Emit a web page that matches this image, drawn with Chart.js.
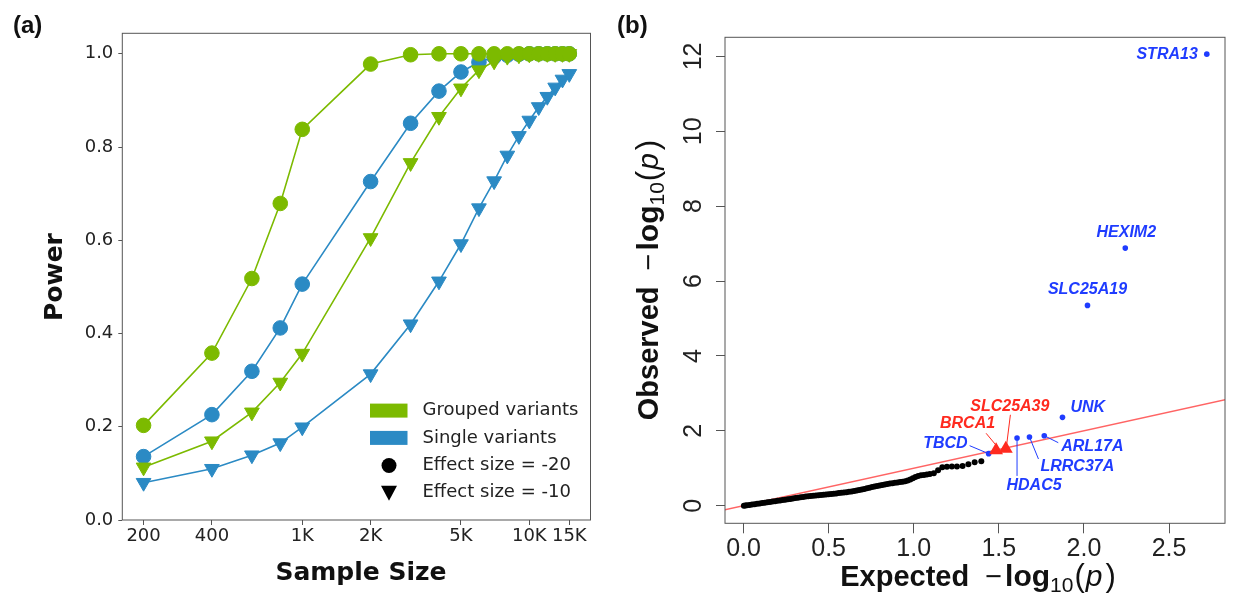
<!DOCTYPE html>
<html>
<head>
<meta charset="utf-8">
<script src="https://cdn.jsdelivr.net/npm/chart.js@4.4.1/dist/chart.umd.min.js"></script>
<style>
  html, body { margin: 0; padding: 0; background: #fff; }
  #wrap { position: relative; width: 1233px; height: 599px; overflow: hidden; }
  #chartA { position: absolute; left: 0; top: 0; }
  #chartB { position: absolute; left: 600px; top: 0; }
</style>
</head>
<body>
<div id="wrap">
  <canvas id="chartA" width="600" height="599"></canvas>
  <canvas id="chartB" width="633" height="599"></canvas>
</div>
<script>
// ---- panel (a): power vs sample size ----
const sampleSizes = [200, 400, 600, 800, 1000, 2000, 3000, 4000, 5000, 6000, 7000, 8000, 9000, 10000, 11000, 12000, 13000, 14000, 15000];
const groupedEffect20 = [0.203, 0.358, 0.518, 0.679, 0.838, 0.978, 0.998, 1, 1, 1, 1, 1, 1, 1, 1, 1, 1, 1, 1];
const singleEffect20 = [0.136, 0.226, 0.319, 0.412, 0.506, 0.726, 0.851, 0.920, 0.961, 0.982, 0.993, 0.997, 0.999, 1, 1, 1, 1, 1, 1];
const groupedEffect10 = [0.113, 0.169, 0.231, 0.295, 0.357, 0.605, 0.766, 0.865, 0.926, 0.965, 0.984, 0.994, 0.997, 0.999, 1, 1, 1, 1, 1];
const singleEffect10 = [0.080, 0.110, 0.139, 0.165, 0.199, 0.313, 0.420, 0.512, 0.592, 0.669, 0.727, 0.782, 0.824, 0.857, 0.886, 0.908, 0.928, 0.945, 0.957];
const sampleTicks = [200, 400, 1000, 2000, 5000, 10000, 15000];
const sampleTickLabels = ['200', '400', '1K', '2K', '5K', '10K', '15K'];
const powerTicks = [0, 0.2, 0.4, 0.6, 0.8, 1.0];
const legendLabels = ['Grouped variants', 'Single variants', 'Effect size = -20', 'Effect size = -10'];

// ---- panel (b): QQ plot ----
const qqExpected = [0.002, 0.01, 0.02,
  0.035, 0.05, 0.065, 0.08, 0.095, 0.11, 0.125, 0.14, 0.155, 0.17, 0.185, 0.2, 0.215, 0.23, 0.245, 0.26,
  0.275, 0.29, 0.305, 0.32, 0.335, 0.35, 0.365, 0.38, 0.395, 0.41, 0.425, 0.44, 0.455, 0.47, 0.485, 0.5,
  0.515, 0.53, 0.545, 0.56, 0.575, 0.59, 0.605, 0.62, 0.635, 0.65, 0.665, 0.68, 0.695, 0.71, 0.725, 0.74,
  0.755, 0.77, 0.785, 0.8, 0.815, 0.83, 0.845, 0.86, 0.875, 0.89, 0.905, 0.92, 0.935, 0.95,
  0.965, 0.98, 0.995, 1.01, 1.026, 1.043, 1.06, 1.077, 1.095,
  1.118, 1.143, 1.168, 1.195, 1.224, 1.254, 1.287, 1.321, 1.358, 1.397];
const qqObserved = [0.0, 0.005, 0.012,
  0.02, 0.03, 0.04, 0.05, 0.06, 0.072, 0.082, 0.092, 0.102, 0.112, 0.122, 0.132, 0.142, 0.152, 0.162, 0.172,
  0.182, 0.192, 0.205, 0.215, 0.225, 0.235, 0.245, 0.252, 0.258, 0.265, 0.272, 0.278, 0.285, 0.292, 0.298, 0.305,
  0.312, 0.32, 0.328, 0.336, 0.344, 0.352, 0.36, 0.37, 0.38, 0.39, 0.405, 0.418, 0.432, 0.448, 0.465, 0.482,
  0.498, 0.512, 0.526, 0.54, 0.555, 0.568, 0.58, 0.59, 0.6, 0.61, 0.62, 0.63, 0.64, 0.655,
  0.675, 0.70, 0.735, 0.765, 0.79, 0.81, 0.822, 0.834, 0.848,
  0.87, 0.95, 1.03, 1.04, 1.045, 1.05, 1.06, 1.11, 1.16, 1.19];
const geneNames = ['STRA13', 'HEXIM2', 'SLC25A19', 'UNK', 'ARL17A', 'LRRC37A', 'HDAC5', 'TBCD'];
const geneExpected = [2.722, 2.243, 2.021, 1.874, 1.767, 1.68, 1.607, 1.44];
const geneObserved = [12.06, 6.88, 5.35, 2.36, 1.87, 1.835, 1.81, 1.39];
const redGeneNames = ['BRCA1', 'SLC25A39'];
const redExpected = [1.484, 1.541];
const redObserved = [1.48, 1.52];
const diagonal = [-1, 4];   // y = x reference line
const expectedTicks = [0, 0.5, 1, 1.5, 2, 2.5];
const observedTicks = [0, 2, 4, 6, 8, 10, 12];

const GREEN = '#7cba00';
const BLUE = '#2b8ac4';
const GENE_BLUE = '#1f3cff';
const GENE_RED = '#ff2a1f';

// where each gene label sits, in pixels from its point
const labelPlacement = {
  STRA13:   { align: 'right',  dx: -9, dy: 0 },
  HEXIM2:   { align: 'center', dx: 1,  dy: -16 },
  SLC25A19: { align: 'center', dx: 0,  dy: -16 },
  UNK:      { align: 'left',   dx: 8,  dy: -10 },
  ARL17A:   { align: 'left',   dx: 17, dy: 11, leader: [0, 0, 14, 7] },
  LRRC37A:  { align: 'left',   dx: 11, dy: 30, leader: [0, 0, 9, 22] },
  HDAC5:    { align: 'center', dx: 17, dy: 48, leader: [0, 0, 0, 38] },
  TBCD:     { align: 'right',  dx: -21, dy: -10, leader: [-19, -8, 0, 0] },
  BRCA1:    { align: 'right',  dx: -1, dy: -27, leader: [-10, -17, 0, -5] },
  SLC25A39: { align: 'center', dx: 4,  dy: -42, leader: [4.6, -34, 0.6, -2] }
};

function seriesPoints(values) {
  return sampleSizes.map(function(n, i) { return { x: n, y: values[i] }; });
}

function lineSeries(values, color, style) {
  return {
    data: seriesPoints(values),
    borderColor: color,
    backgroundColor: color,
    borderWidth: 1.6,
    pointStyle: style,
    pointRadius: style === 'circle' ? 7.3 : 8.5,
    pointRotation: style === 'triangle' ? 180 : 0,
    pointBorderWidth: 1,
    pointBorderColor: color,
    pointBackgroundColor: color,
    tension: 0
  };
}

const panelA = {
  id: 'panelA',
  afterDraw(chart) {
    const ctx = chart.ctx, a = chart.chartArea;
    ctx.save();
    ctx.strokeStyle = '#555';
    ctx.lineWidth = 1;
    ctx.strokeRect(a.left, a.top, a.right - a.left, a.bottom - a.top);

    ctx.fillStyle = '#111';
    ctx.textBaseline = 'middle';
    ctx.textAlign = 'left';
    ctx.font = 'bold 24px "Liberation Sans"';
    ctx.fillText('(a)', 13, 26);

    ctx.textAlign = 'center';
    ctx.font = 'bold 25px "DejaVu Sans"';
    ctx.fillText('Sample Size', 361, 573);
    ctx.save();
    ctx.translate(55, 277);
    ctx.rotate(-Math.PI / 2);
    ctx.fillText('Power', 0, 0);
    ctx.restore();

    // legend
    const rows = [410.6, 437.9, 465.5, 492.8];
    ctx.fillStyle = GREEN;
    ctx.fillRect(370, rows[0] - 7, 37.5, 14);
    ctx.fillStyle = BLUE;
    ctx.fillRect(370, rows[1] - 7, 37.5, 14);
    ctx.fillStyle = '#000';
    ctx.beginPath();
    ctx.arc(389, rows[2], 7.5, 0, Math.PI * 2);
    ctx.fill();
    ctx.beginPath();
    ctx.moveTo(381, rows[3] - 7);
    ctx.lineTo(397, rows[3] - 7);
    ctx.lineTo(389, rows[3] + 8);
    ctx.closePath();
    ctx.fill();
    ctx.fillStyle = '#222';
    ctx.textAlign = 'left';
    ctx.font = '18px "DejaVu Sans"';
    legendLabels.forEach(function(t, i) { ctx.fillText(t, 422.5, rows[i]); });
    ctx.restore();
  }
};

new Chart(document.getElementById('chartA'), {
  type: 'line',
  data: {
    datasets: [
      lineSeries(groupedEffect20, GREEN, 'circle'),
      lineSeries(groupedEffect10, GREEN, 'triangle'),
      lineSeries(singleEffect20, BLUE, 'circle'),
      lineSeries(singleEffect10, BLUE, 'triangle')
    ]
  },
  options: {
    responsive: false,
    animation: false,
    devicePixelRatio: 1,
    layout: { padding: { left: 0, right: 0.7, top: 33.3, bottom: 0 } },
    plugins: { legend: { display: false }, tooltip: { enabled: false } },
    scales: {
      x: {
        type: 'logarithmic',
        min: 161.2,
        max: 18600,
        afterBuildTicks: function(s) { s.ticks = sampleTicks.map(function(v) { return { value: v }; }); },
        afterFit: function(s) { s.height = 79; },
        grid: { drawOnChartArea: false, drawTicks: true, tickLength: 5, color: '#555' },
        border: { display: false },
        ticks: {
          autoSkip: false, maxRotation: 0, padding: 1, color: '#222',
          font: { family: 'DejaVu Sans', size: 18 },
          callback: function(v, i) { return sampleTickLabels[i]; }
        }
      },
      y: {
        min: 0,
        max: 1.044,
        afterBuildTicks: function(s) { s.ticks = powerTicks.map(function(v) { return { value: v }; }); },
        afterFit: function(s) { s.width = 122.3; },
        grid: { drawOnChartArea: false, drawTicks: true, tickLength: 4, color: '#555' },
        border: { display: false },
        ticks: {
          padding: 5, color: '#222',
          font: { family: 'DejaVu Sans', size: 18 },
          callback: function(v) { return v.toFixed(1); }
        }
      }
    }
  },
  plugins: [panelA]
});

// mixed-font axis title: "Word  −log10(p)"
function drawMathTitle(ctx, word, x, y) {
  const parts = [
    { t: word, f: 'bold 29px "Liberation Sans"', gap: 16 },
    { t: '\u2212', f: '29px "Liberation Sans"', gap: 3 },
    { t: 'log', f: 'bold 30px "Liberation Sans"' },
    { t: '10', f: '21px "Liberation Sans"', dy: 6, gap: 1 },
    { t: '(', f: '31px "Liberation Sans"', gap: 1 },
    { t: 'p', f: 'italic 30px "Liberation Sans"', gap: 3 },
    { t: ')', f: '31px "Liberation Sans"' }
  ];
  let total = 0;
  parts.forEach(function(p) {
    ctx.font = p.f;
    p.w = ctx.measureText(p.t).width + (p.gap || 0);
    total += p.w;
  });
  let cx = x - total / 2;
  ctx.textAlign = 'left';
  ctx.textBaseline = 'alphabetic';
  parts.forEach(function(p) {
    ctx.font = p.f;
    ctx.fillText(p.t, cx, y + (p.dy || 0));
    cx += p.w;
  });
}

const panelB = {
  id: 'panelB',
  afterDraw(chart) {
    const ctx = chart.ctx, a = chart.chartArea;
    const xs = chart.scales.x, ys = chart.scales.y;
    ctx.save();
    ctx.strokeStyle = '#555';
    ctx.lineWidth = 1;
    ctx.strokeRect(a.left, a.top, a.right - a.left, a.bottom - a.top);

    // rotated y tick labels (R style)
    ctx.fillStyle = '#222';
    ctx.font = '25px "Liberation Sans"';
    ctx.textAlign = 'center';
    ctx.textBaseline = 'middle';
    observedTicks.forEach(function(v) {
      ctx.save();
      ctx.translate(94, ys.getPixelForValue(v));
      ctx.rotate(-Math.PI / 2);
      ctx.fillText(String(v), 0, 0);
      ctx.restore();
    });

    ctx.fillStyle = '#111';
    ctx.textAlign = 'left';
    ctx.font = 'bold 24px "Liberation Sans"';
    ctx.fillText('(b)', 17, 26);

    drawMathTitle(ctx, 'Expected', 378, 586);
    ctx.save();
    ctx.translate(48, 280);
    ctx.rotate(-Math.PI / 2);
    drawMathTitle(ctx, 'Observed', 0, 10);
    ctx.restore();

    // gene labels and leader lines
    ctx.font = 'italic bold 16px "Liberation Sans"';
    ctx.textBaseline = 'middle';
    function label(name, ex, ob, color) {
      const p = labelPlacement[name];
      const px = xs.getPixelForValue(ex), py = ys.getPixelForValue(ob);
      ctx.fillStyle = color;
      ctx.strokeStyle = color;
      ctx.textAlign = p.align;
      ctx.fillText(name, px + p.dx, py + p.dy);
      if (p.leader) {
        ctx.lineWidth = 1;
        ctx.beginPath();
        ctx.moveTo(px + p.leader[0], py + p.leader[1]);
        ctx.lineTo(px + p.leader[2], py + p.leader[3]);
        ctx.stroke();
      }
    }
    geneNames.forEach(function(n, i) { label(n, geneExpected[i], geneObserved[i], GENE_BLUE); });
    redGeneNames.forEach(function(n, i) { label(n, redExpected[i], redObserved[i], GENE_RED); });
    ctx.restore();
  }
};

new Chart(document.getElementById('chartB'), {
  type: 'scatter',
  data: {
    datasets: [
      {
        data: redExpected.map(function(x, i) { return { x: x, y: redObserved[i] }; }),
        pointStyle: 'triangle', pointRadius: 8, pointBorderWidth: 0,
        backgroundColor: GENE_RED, borderColor: GENE_RED
      },
      {
        data: geneExpected.map(function(x, i) { return { x: x, y: geneObserved[i] }; }),
        pointRadius: 2.8, pointBorderWidth: 0,
        backgroundColor: GENE_BLUE, borderColor: GENE_BLUE
      },
      {
        data: qqExpected.map(function(x, i) { return { x: x, y: qqObserved[i] }; }),
        pointRadius: 3, pointBorderWidth: 0,
        backgroundColor: '#000', borderColor: '#000'
      },
      {
        type: 'line',
        data: diagonal.map(function(v) { return { x: v, y: v }; }),
        borderColor: '#ff6464', borderWidth: 1.3, pointRadius: 0, showLine: true
      }
    ]
  },
  options: {
    responsive: false,
    animation: false,
    devicePixelRatio: 1,
    layout: { padding: { left: 0, right: 4.3, top: 37.3, bottom: 0 } },
    plugins: { legend: { display: false }, tooltip: { enabled: false } },
    scales: {
      x: {
        type: 'linear',
        min: -0.109,
        max: 2.829,
        afterBuildTicks: function(s) { s.ticks = expectedTicks.map(function(v) { return { value: v }; }); },
        afterFit: function(s) { s.height = 75.7; },
        grid: { drawOnChartArea: false, drawTicks: true, tickLength: 10, color: '#555' },
        border: { display: false },
        ticks: {
          autoSkip: false, maxRotation: 0, padding: 1, color: '#222',
          font: { family: 'Liberation Sans', size: 25 },
          callback: function(v) { return v.toFixed(1); }
        }
      },
      y: {
        type: 'linear',
        min: -0.47,
        max: 12.51,
        afterBuildTicks: function(s) { s.ticks = observedTicks.map(function(v) { return { value: v }; }); },
        afterFit: function(s) { s.width = 125; },
        grid: { drawOnChartArea: false, drawTicks: true, tickLength: 9, color: '#555' },
        border: { display: false },
        ticks: { display: false }
      }
    }
  },
  plugins: [panelB]
});
</script>
</body>
</html>
